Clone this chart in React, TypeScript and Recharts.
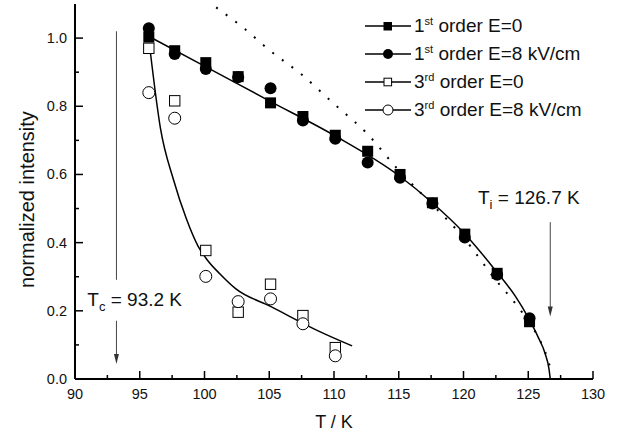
import React from "react";
import {
  ComposedChart,
  Line,
  Scatter,
  XAxis,
  YAxis,
  ReferenceLine,
  ReferenceDot,
  Legend,
  Label,
} from "recharts";

const FONT = "'Liberation Sans', Arial, Helvetica, sans-serif";

// measured points (T in K, normalized intensity)
const temps1st = [95.7, 97.7, 100.1, 102.6, 105.1, 107.6, 110.1, 112.6, 115.1, 117.6, 120.1, 122.6, 125.1];
const first0 = [1.003, 0.963, 0.928, 0.887, 0.81, 0.77, 0.715, 0.668, 0.6, 0.517, 0.425, 0.31, 0.168];
const first8 = [1.029, 0.953, 0.909, 0.885, 0.853, 0.758, 0.705, 0.635, 0.59, 0.515, 0.415, 0.306, 0.178];

const temps3rd = [95.7, 97.7, 100.1, 102.6, 105.1, 107.6, 110.1];
const third0 = [0.97, 0.816, 0.377, 0.196, 0.278, 0.186, 0.092];
const third8 = [0.84, 0.765, 0.301, 0.227, 0.235, 0.162, 0.068];

// fitted curves
const fit1T = [95.7, 100, 105, 110, 115, 117.5, 120, 122.5, 124, 125, 125.8, 126.3, 126.6, 126.7];
const fit1I = [1.005, 0.918, 0.816, 0.715, 0.597, 0.52, 0.43, 0.317, 0.243, 0.18, 0.12, 0.075, 0.03, 0];
const dotT = [100.9, 103, 105, 107.5, 110, 112.5, 115, 117.5, 120, 122.5, 124, 125, 125.7, 126.3, 126.8];
const dotI = [1.09, 1.03, 0.965, 0.893, 0.807, 0.722, 0.612, 0.515, 0.415, 0.29, 0.222, 0.17, 0.128, 0.08, 0.02];
const fit3T = [95.8, 96.6, 97.6, 98.6, 99.5, 100.2, 101.2, 102.4, 105.1, 108.9, 111.4];
const fit3I = [0.965, 0.735, 0.585, 0.47, 0.39, 0.35, 0.308, 0.265, 0.213, 0.139, 0.097];

const xTicks = [90, 92.5, 95, 97.5, 100, 102.5, 105, 107.5, 110, 112.5, 115, 117.5, 120, 122.5, 125, 127.5, 130];
const yTicks = [0, 0.1, 0.2, 0.3, 0.4, 0.5, 0.6, 0.7, 0.8, 0.9, 1.0];
const yTicksRight = [0, 0.05, 0.1, 0.15, 0.2, 0.25, 0.3, 0.35, 0.4, 0.45, 0.5, 0.55, 0.6, 0.65, 0.7, 0.75, 0.8, 0.85, 0.9, 0.95, 1.0, 1.05];

const TC = 93.2;
const TI = 126.7;

const legendNames = [
  ["1", "st", "order E=0"],
  ["1", "st", "order E=8 kV/cm"],
  ["3", "rd", "order E=0"],
  ["3", "rd", "order E=8 kV/cm"],
];

const pts = (xs: number[], ys: number[]) => xs.map((x, i) => ({ x, y: ys[i] }));

const FilledSquare = (p: any) => <rect x={p.cx - 5.5} y={p.cy - 5.5} width={11} height={11} fill="#000" />;
const FilledCircle = (p: any) => <circle cx={p.cx} cy={p.cy} r={6} fill="#000" />;
const OpenSquare = (p: any) => (
  <rect x={p.cx - 5.2} y={p.cy - 5.2} width={10.4} height={10.4} fill="#fff" stroke="#000" strokeWidth={1} />
);
const OpenCircle = (p: any) => <circle cx={p.cx} cy={p.cy} r={6} fill="#fff" stroke="#000" strokeWidth={1} />;

const BottomTick = ({ x, y, payload }: any) => {
  const major = payload.value % 5 === 0;
  return (
    <g>
      <line x1={x} x2={x} y1={y} y2={y - (major ? 8 : 4)} stroke="#000" strokeWidth={1.5} />
      {major && (
        <text x={x} y={y + 20} textAnchor="middle" fontSize={14.5} fontFamily={FONT} fill="#111">
          {payload.value}
        </text>
      )}
    </g>
  );
};

const LeftTick = ({ x, y, payload }: any) => {
  const major = Math.round(payload.value * 10) % 2 === 0;
  return (
    <g>
      <line x1={x} x2={x + (major ? 8 : 4)} y1={y} y2={y} stroke="#000" strokeWidth={1.5} />
      {major && (
        <text x={x - 8} y={y + 5} textAnchor="end" fontSize={14.5} fontFamily={FONT} fill="#111">
          {payload.value.toFixed(1)}
        </text>
      )}
    </g>
  );
};

const TopTick = ({ x, y }: any) => <line x1={x} x2={x} y1={y} y2={y + 4} stroke="#000" strokeWidth={1} />;
const RightTick = ({ x, y }: any) => <line x1={x - 4} x2={x} y1={y} y2={y} stroke="#000" strokeWidth={1} />;

const ArrowHead = ({ cx, cy }: any) => (
  <polygon points={`${cx - 2.5},${cy - 10} ${cx + 2.5},${cy - 10} ${cx},${cy}`} fill="#333" />
);

const TcText = ({ cx, cy }: any) => (
  <text x={cx} y={cy} fontSize={19} fontFamily={FONT} fill="#111">
    T<tspan fontSize={13} dy={5}>c</tspan>
    <tspan dy={-5}> = 93.2 K</tspan>
  </text>
);

const TiText = ({ cx, cy }: any) => (
  <text x={cx} y={cy} fontSize={19} fontFamily={FONT} fill="#111">
    T<tspan fontSize={13} dy={5}>i</tspan>
    <tspan dy={-5}> = 126.7 K</tspan>
  </text>
);

const legendMarkers = [
  <rect x={18.5} y={4} width={8.5} height={8.5} fill="#000" />,
  <circle cx={23} cy={8} r={5} fill="#000" />,
  <rect x={19} y={4.2} width={7.6} height={7.6} fill="#fff" stroke="#000" />,
  <circle cx={23} cy={8} r={5} fill="#fff" stroke="#000" />,
];

const LegendBox = () => (
  <div style={{ fontFamily: FONT, fontSize: 19, color: "#111" }}>
    {legendNames.map((n, i) => (
      <div key={i} style={{ height: 28, display: "flex", alignItems: "center" }}>
        <svg width={46} height={16} style={{ marginRight: 3 }}>
          <line x1={0} x2={46} y1={8} y2={8} stroke="#000" strokeWidth={1.5} />
          {legendMarkers[i]}
        </svg>
        <span style={{ whiteSpace: "nowrap" }}>
          {n[0]}
          <span style={{ fontSize: 11, position: "relative", top: -7 }}>{n[1]}</span> {n[2]}
        </span>
      </div>
    ))}
  </div>
);

export default function App() {
  return (
    <div>
      <style>{"body{margin:0}"}</style>
      <ComposedChart width={617} height={435} margin={{ top: 4, right: 24, bottom: 0, left: 0 }}>
        <XAxis
          dataKey="x"
          type="number"
          domain={[90, 130]}
          ticks={xTicks}
          interval={0}
          allowDataOverflow
          height={56}
          tickSize={0}
          tickMargin={0}
          tick={<BottomTick />}
          axisLine={{ stroke: "#000", strokeWidth: 2 }}
        >
          <Label
            content={({ viewBox }: any) => (
              <text x={viewBox.x + viewBox.width / 2} y={viewBox.y + 49} textAnchor="middle" fontSize={18} fontFamily={FONT} fill="#111">
                T / K
              </text>
            )}
          />
        </XAxis>
        <XAxis
          xAxisId="top"
          orientation="top"
          dataKey="x"
          type="number"
          domain={[90, 130]}
          ticks={xTicks}
          interval={0}
          height={0}
          tickSize={0}
          tickMargin={0}
          tick={<TopTick />}
          axisLine={{ stroke: "#000", strokeWidth: 2 }}
        />
        <YAxis
          dataKey="y"
          type="number"
          domain={[0, 1.1]}
          ticks={yTicks}
          interval={0}
          allowDataOverflow
          width={75}
          tickSize={0}
          tickMargin={0}
          tick={<LeftTick />}
          axisLine={{ stroke: "#000", strokeWidth: 2 }}
        >
          <Label
            content={({ viewBox }: any) => {
              const cy = viewBox.y + viewBox.height / 2 + 8;
              return (
                <text x={34} y={cy} transform={`rotate(-90 34 ${cy})`} textAnchor="middle" fontSize={20} fontFamily={FONT} fill="#111">
                  normalized intensity
                </text>
              );
            }}
          />
        </YAxis>
        <YAxis
          yAxisId="right"
          orientation="right"
          dataKey="y"
          type="number"
          domain={[0, 1.1]}
          ticks={yTicksRight}
          interval={0}
          width={0}
          tickSize={0}
          tickMargin={0}
          tick={<RightTick />}
          axisLine={{ stroke: "#000", strokeWidth: 2 }}
        />

        <Line data={pts(dotT, dotI)} dataKey="y" type="monotone" stroke="#000" strokeWidth={2} strokeDasharray="2 10" dot={false} legendType="none" isAnimationActive={false} />
        <Line data={pts(fit1T, fit1I)} dataKey="y" type="monotone" stroke="#000" strokeWidth={1.5} dot={false} legendType="none" isAnimationActive={false} />
        <Line data={pts(fit3T, fit3I)} dataKey="y" type="monotone" stroke="#000" strokeWidth={1.5} dot={false} legendType="none" isAnimationActive={false} />

        <Scatter name="1st order E=0" data={pts(temps1st, first0)} shape={FilledSquare} isAnimationActive={false} />
        <Scatter name="1st order E=8 kV/cm" data={pts(temps1st, first8)} shape={FilledCircle} isAnimationActive={false} />
        <Scatter name="3rd order E=0" data={pts(temps3rd, third0)} shape={OpenSquare} isAnimationActive={false} />
        <Scatter name="3rd order E=8 kV/cm" data={pts(temps3rd, third8)} shape={OpenCircle} isAnimationActive={false} />

        <ReferenceLine segment={[{ x: TC, y: 1.02 }, { x: TC, y: 0.291 }]} stroke="#444" strokeWidth={1} />
        <ReferenceLine segment={[{ x: TC, y: 0.171 }, { x: TC, y: 0.06 }]} stroke="#444" strokeWidth={1} />
        <ReferenceDot x={TC} y={0.044} r={0} shape={ArrowHead} />
        <ReferenceLine segment={[{ x: TI, y: 0.46 }, { x: TI, y: 0.2 }]} stroke="#444" strokeWidth={1} />
        <ReferenceDot x={TI} y={0.183} r={0} shape={ArrowHead} />
        <ReferenceDot x={90.95} y={0.215} r={0} shape={TcText} />
        <ReferenceDot x={121.12} y={0.512} r={0} shape={TiText} />

        <Legend
          layout="vertical"
          align="center"
          verticalAlign="middle"
          content={<LegendBox />}
          wrapperStyle={{ position: "absolute", top: 12, left: 365, width: 240 }}
        />
      </ComposedChart>
    </div>
  );
}
